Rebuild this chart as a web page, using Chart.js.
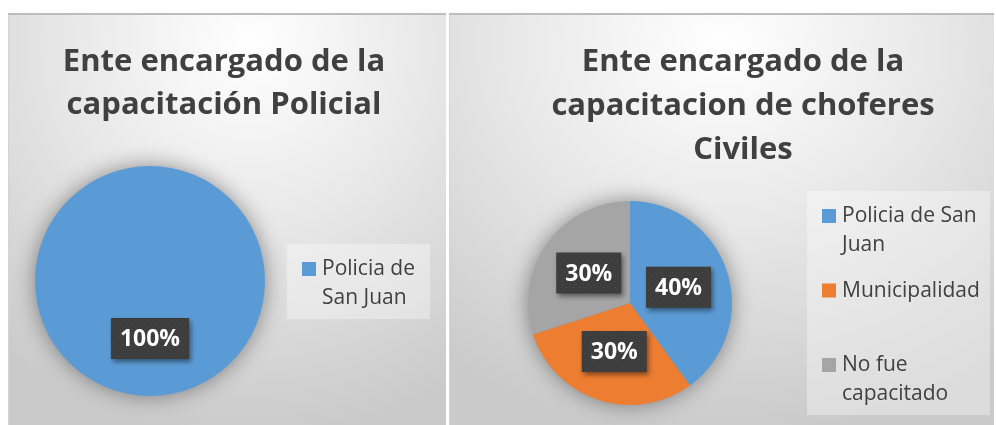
<!DOCTYPE html>
<html>
<head>
<meta charset="utf-8">
<script src="https://cdn.jsdelivr.net/npm/chart.js@4.4.0/dist/chart.umd.min.js"></script>
<style>
  body { margin: 0; background: #fff; width: 996px; height: 425px; overflow: hidden; position: relative; }
  .panel { position: absolute; top: 13px; height: 412px; box-shadow: inset 0 2px 0 #bdbdbd, inset 1px 0 0 #d4d4d4; }
  #p1 { left: 8px; width: 438px; background: radial-gradient(ellipse 90% 95% at 55% 8%, #ffffff 0%, #ebebeb 40%, #cacaca 100%); }
  #p2 { left: 449px; width: 545px; background: radial-gradient(ellipse 85% 95% at 50% 8%, #ffffff 0%, #ebebeb 40%, #cacaca 100%); }
  canvas { position: absolute; left: 0; top: 0; }
</style>
</head>
<body>
<div class="panel" id="p1"><canvas id="c1" width="438" height="412"></canvas></div>
<div class="panel" id="p2"><canvas id="c2" width="545" height="412"></canvas></div>
<script>
// data
const leftTitle = ['Ente encargado de la', 'capacitación Policial'];
const leftLabels = ['Policia de San Juan'];
const leftValues = [100];

const rightTitle = ['Ente encargado de la', 'capacitacion de choferes', 'Civiles'];
const rightLabels = ['Policia de San Juan', 'Municipalidad', 'No fue capacitado'];
const rightValues = [40, 30, 30];

const sliceColors = ['#5b9bd5', '#ed7d31', '#a5a5a5'];

const FONT = '"Open Sans", Lato, sans-serif';

// dotted dark fill for the data labels
function labelPattern(ctx) {
  const pc = document.createElement('canvas');
  pc.width = 6; pc.height = 6;
  const p = pc.getContext('2d');
  p.fillStyle = '#3d3d3d';
  p.fillRect(0, 0, 6, 6);
  p.fillStyle = '#4b4b4b';
  p.fillRect(1, 1, 1, 1);
  p.fillRect(4, 4, 1, 1);
  return ctx.createPattern(pc, 'repeat');
}

// soft shadow under the whole pie
const pieShadow = {
  id: 'pieShadow',
  beforeDatasetsDraw(chart) {
    const arc = chart.getDatasetMeta(0).data[0];
    if (!arc) return;
    const ctx = chart.ctx;
    ctx.save();
    ctx.shadowColor = 'rgba(0,0,0,0.45)';
    ctx.shadowBlur = 22;
    ctx.fillStyle = '#8a8a8a';
    ctx.beginPath();
    ctx.arc(arc.x, arc.y, arc.outerRadius - 1, 0, Math.PI * 2);
    ctx.fill();
    ctx.restore();
  }
};

const titlePlugin = {
  id: 'panelTitle',
  afterDraw(chart, args, o) {
    const ctx = chart.ctx;
    ctx.save();
    ctx.font = 'bold ' + o.size + 'px ' + FONT;
    ctx.fillStyle = '#404040';
    ctx.textAlign = 'center';
    ctx.textBaseline = 'alphabetic';
    o.text.forEach((t, i) => ctx.fillText(t, o.x, o.y + i * o.lineHeight));
    ctx.restore();
  }
};

function wrap(ctx, text, maxWidth) {
  const words = text.split(' ');
  const lines = [];
  let cur = '';
  words.forEach(w => {
    const test = cur ? cur + ' ' + w : w;
    if (cur && ctx.measureText(test).width > maxWidth) {
      lines.push(cur);
      cur = w;
    } else {
      cur = test;
    }
  });
  if (cur) lines.push(cur);
  return lines;
}

const legendPlugin = {
  id: 'sideLegend',
  afterDraw(chart, args, o) {
    const ctx = chart.ctx;
    const labels = chart.data.labels;
    const colors = chart.data.datasets[0].backgroundColor;
    ctx.save();
    ctx.fillStyle = 'rgba(255,255,255,0.35)';
    ctx.fillRect(o.box[0], o.box[1], o.box[2], o.box[3]);
    ctx.font = o.size + 'px ' + FONT;
    ctx.textBaseline = 'alphabetic';
    ctx.textAlign = 'left';
    labels.forEach((lab, i) => {
      const base = o.y + i * o.step;
      ctx.fillStyle = colors[i];
      ctx.fillRect(o.x, base - 13, 14, 14);
      ctx.fillStyle = '#404040';
      wrap(ctx, lab, o.maxWidth).forEach((ln, j) => ctx.fillText(ln, o.x + 20, base + j * o.lineHeight));
    });
    ctx.restore();
  }
};

const valueLabels = {
  id: 'valueLabels',
  afterDatasetsDraw(chart) {
    const ctx = chart.ctx;
    const meta = chart.getDatasetMeta(0);
    const values = chart.data.datasets[0].data;
    const total = values.reduce((a, b) => a + b, 0);
    const pat = labelPattern(ctx);
    ctx.save();
    ctx.font = 'bold 23px ' + FONT;
    meta.data.forEach((arc, i) => {
      const pos = arc.tooltipPosition();
      const txt = Math.round(values[i] / total * 100) + '%';
      const w = ctx.measureText(txt).width + 18;
      const h = 41;
      ctx.save();
      ctx.shadowColor = 'rgba(0,0,0,0.45)';
      ctx.shadowBlur = 5;
      ctx.shadowOffsetX = 2;
      ctx.shadowOffsetY = 3;
      ctx.fillStyle = pat;
      ctx.fillRect(pos.x - w / 2, pos.y - h / 2, w, h);
      ctx.restore();
      ctx.fillStyle = '#ffffff';
      ctx.textAlign = 'center';
      ctx.textBaseline = 'middle';
      ctx.fillText(txt, pos.x, pos.y + 1);
    });
    ctx.restore();
  }
};

function makePie(id, labels, values, padding, title, legend) {
  return new Chart(document.getElementById(id), {
    type: 'pie',
    data: {
      labels: labels,
      datasets: [{
        data: values,
        backgroundColor: sliceColors.slice(0, values.length),
        borderWidth: 0,
        hoverOffset: 0
      }]
    },
    options: {
      responsive: false,
      animation: false,
      layout: { padding: padding },
      plugins: {
        legend: { display: false },
        tooltip: { enabled: false },
        panelTitle: title,
        sideLegend: legend
      }
    },
    plugins: [pieShadow, valueLabels, titlePlugin, legendPlugin]
  });
}

makePie('c1', leftLabels, leftValues,
  { left: 27, right: 181, top: 153, bottom: 29 },
  { text: leftTitle, x: 216, y: 58, lineHeight: 43, size: 31 },
  { box: [279, 231, 143, 75], x: 294, y: 262, step: 74, lineHeight: 29, maxWidth: 105, size: 21 });

makePie('c2', rightLabels, rightValues,
  { left: 79, right: 262, top: 188, bottom: 20 },
  { text: rightTitle, x: 294, y: 58, lineHeight: 44, size: 31 },
  { box: [358, 178, 183, 224], x: 373, y: 209, step: 74.5, lineHeight: 29, maxWidth: 150, size: 21 });
</script>
</body>
</html>
